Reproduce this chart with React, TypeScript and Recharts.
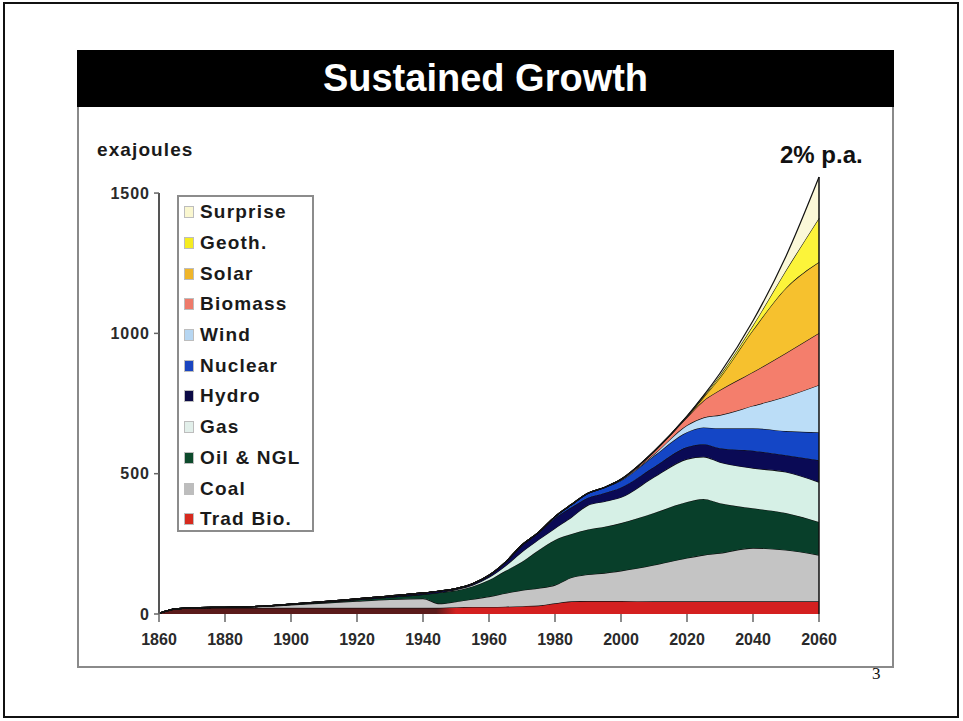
import React from 'react';
import { AreaChart, Area, XAxis, YAxis, Legend, ReferenceLine } from 'recharts';

const years = [1860, 1865, 1870, 1880, 1890, 1900, 1910, 1920, 1930, 1940, 1945, 1950, 1955, 1960, 1965, 1970, 1975, 1980, 1985, 1990, 1995, 2000, 2010, 2020, 2025, 2030, 2040, 2050, 2060];

const tradBio = [2, 18, 21, 22, 22, 22, 22, 22, 22, 22, 22, 24, 25, 25, 26, 28, 30, 38, 45, 46, 46, 46, 45, 45, 45, 45, 45, 45, 45];
const coal = [0, 0, 1, 2, 4, 10, 17, 24, 30, 33, 15, 20, 28, 37, 48, 57, 62, 65, 85, 95, 100, 108, 130, 155, 165, 172, 190, 183, 165];
const oil = [0, 0, 0, 0, 1, 2, 3, 5, 8, 15, 40, 40, 45, 59, 80, 101, 135, 161, 155, 160, 165, 170, 185, 199, 200, 178, 142, 132, 118];
const gas = [0, 0, 0, 0, 0, 0, 0, 0, 0, 0, 0, 3, 5, 10, 18, 36, 38, 42, 60, 87, 90, 92, 128, 153, 150, 146, 143, 146, 142];
const hydro = [0, 0, 0, 0, 0, 1, 2, 3, 4, 5, 5, 4, 5, 7, 13, 24, 25, 36, 35, 26, 30, 35, 36, 43, 45, 50, 62, 60, 78];
const nuclear = [0, 0, 0, 0, 0, 0, 0, 0, 0, 0, 0, 0, 0, 0, 0, 0, 1, 5, 10, 16, 20, 25, 40, 53, 60, 71, 80, 86, 100];
const wind = [0, 0, 0, 0, 0, 0, 0, 0, 0, 0, 0, 0, 0, 0, 0, 0, 0, 0, 0, 0, 0, 2, 5, 25, 35, 47, 80, 123, 168];
const biomass = [0, 0, 0, 0, 0, 0, 0, 0, 0, 0, 0, 0, 0, 0, 0, 0, 0, 0, 0, 0, 0, 2, 9, 28, 60, 89, 120, 155, 185];
const solar = [0, 0, 0, 0, 0, 0, 0, 0, 0, 0, 0, 0, 0, 0, 0, 0, 0, 0, 0, 0, 0, 0, 1, 2, 12, 45, 150, 232, 253];
const geoth = [0, 0, 0, 0, 0, 0, 0, 0, 0, 0, 0, 0, 0, 0, 0, 0, 0, 0, 0, 0, 0, 0, 0.5, 1, 4, 8, 17, 63, 157];
const surprise = [0, 0, 0, 0, 0, 0, 0, 0, 0, 0, 0, 0, 0, 0, 0, 0, 0, 0, 0, 0, 0, 0, 0.5, 1, 2, 7, 16, 50, 146];

const xTicks = [1860, 1880, 1900, 1920, 1940, 1960, 1980, 2000, 2020, 2040, 2060];
const yTicks = [0, 500, 1000, 1500];

// bottom-to-top stacking order
const seriesDefs = [
  { key: 'tradBio', name: 'Trad Bio.', values: tradBio, fill: 'url(#tradGrad)', swatch: '#D62A1E' },
  { key: 'coal', name: 'Coal', values: coal, fill: '#C4C4C4', swatch: '#BDBDBD' },
  { key: 'oil', name: 'Oil & NGL', values: oil, fill: '#083F2A', swatch: '#0D4A2C' },
  { key: 'gas', name: 'Gas', values: gas, fill: '#D6F0E6', swatch: '#E2EFEA' },
  { key: 'hydro', name: 'Hydro', values: hydro, fill: '#0A0A55', swatch: '#0B0A45' },
  { key: 'nuclear', name: 'Nuclear', values: nuclear, fill: '#1446C6', swatch: '#1A45C0' },
  { key: 'wind', name: 'Wind', values: wind, fill: '#BBDDF7', swatch: '#B6D6F2' },
  { key: 'biomass', name: 'Biomass', values: biomass, fill: '#F47E6C', swatch: '#EE7A6A' },
  { key: 'solar', name: 'Solar', values: solar, fill: '#F6C12E', swatch: '#EFB52A' },
  { key: 'geoth', name: 'Geoth.', values: geoth, fill: '#FCF43A', swatch: '#F5EC20' },
  { key: 'surprise', name: 'Surprise', values: surprise, fill: '#FBF8D8', swatch: '#FAF7D0' },
];

const data = years.map((year, i) => {
  const row: Record<string, number> = { year };
  seriesDefs.forEach((s) => {
    row[s.key] = s.values[i];
  });
  return row;
});

const lastIdx = years.length - 1;
const finalTotal = seriesDefs.reduce((acc, s) => acc + s.values[lastIdx], 0);

const FONT = '"Liberation Sans", Arial, Helvetica, sans-serif';

const LegendBox = () => (
  <div
    style={{
      width: 137,
      height: 337,
      border: '2px solid #8c8c8c',
      boxSizing: 'border-box',
      background: '#fff',
      paddingTop: 0,
      paddingLeft: 5,
    }}
  >
    {[...seriesDefs].reverse().map((s) => (
      <div key={s.key} style={{ display: 'flex', alignItems: 'center', height: 30.7 }}>
        <span
          style={{
            display: 'inline-block',
            width: 10,
            height: 12,
            background: s.swatch,
            border: '1px solid #bdbdbd',
            boxSizing: 'border-box',
            marginRight: 6,
          }}
        />
        <span style={{ fontFamily: FONT, fontWeight: 700, fontSize: 19, color: '#1a1a1a', letterSpacing: 1.2, whiteSpace: 'nowrap' }}>{s.name}</span>
      </div>
    ))}
  </div>
);

export default function App() {
  return (
    <div style={{ position: 'absolute', left: 0, top: 0, width: 963, height: 721, background: '#fff', overflow: 'hidden', fontFamily: FONT }}>
      <div style={{ position: 'absolute', left: 3, top: 2, width: 956, height: 716, border: '2px solid #111', boxSizing: 'border-box' }} />
      <div style={{ position: 'absolute', left: 872, top: 664, fontFamily: '"Liberation Serif", serif', fontSize: 17, color: '#111', lineHeight: '20px' }}>3</div>
      <div style={{ position: 'absolute', left: 77, top: 50, width: 817, height: 618, border: '2px solid #8a8a8a', boxSizing: 'border-box' }} />
      <div
        style={{
          position: 'absolute', left: 77, top: 50, width: 817, height: 57, background: '#000', color: '#fff',
          display: 'flex', alignItems: 'center', justifyContent: 'center', fontWeight: 700, fontSize: 38, fontFamily: FONT,
        }}
      >
        Sustained Growth
      </div>
      <div style={{ position: 'absolute', left: 97, top: 139, fontSize: 19, fontWeight: 700, color: '#1a1a1a', letterSpacing: 1.1 }}>exajoules</div>
      <div style={{ position: 'absolute', left: 780, top: 141, fontSize: 24, fontWeight: 700, color: '#111' }}>2% p.a.</div>
      <div style={{ position: 'absolute', left: 0, top: 0 }}>
        <AreaChart width={963} height={721} data={data} margin={{ top: 165, right: 144, bottom: 77, left: 99 }}>
          <defs>
            <linearGradient id="tradGrad" x1="0" y1="0" x2="1" y2="0">
              <stop offset="0" stopColor="#5A1A1A" />
              <stop offset="0.42" stopColor="#5A1A1A" />
              <stop offset="0.45" stopColor="#D42020" />
              <stop offset="1" stopColor="#D42020" />
            </linearGradient>
          </defs>
          <XAxis
            dataKey="year"
            type="number"
            domain={[1860, 2060]}
            ticks={xTicks}
            axisLine={false}
            tickLine={{ stroke: '#666', strokeWidth: 1.5 }}
            tickSize={8}
            tickMargin={12}
            height={30}
            tick={{ fontSize: 16, fontWeight: 700, fill: '#2a2a2a', fontFamily: FONT }}
            interval={0}
          />
          <YAxis
            type="number"
            domain={[0, 1600]}
            ticks={yTicks}
            axisLine={false}
            tickLine={{ stroke: '#666', strokeWidth: 1.5 }}
            tickSize={5}
            tickMargin={4}
            width={60}
            tick={{ fontSize: 16, fontWeight: 700, fill: '#2a2a2a', fontFamily: FONT, letterSpacing: 1 }}
            interval={0}
          />
          {seriesDefs.map((s) => (
            <Area
              key={s.key}
              type="monotone"
              dataKey={s.key}
              name={s.name}
              stackId="1"
              fill={s.fill}
              fillOpacity={1}
              stroke="#111"
              strokeWidth={1.2}
              dot={false}
              activeDot={false}
              isAnimationActive={false}
            />
          ))}
          <ReferenceLine segment={[{ x: 1860, y: 0 }, { x: 1860, y: 1500 }]} stroke="#555" strokeWidth={2} />
          <ReferenceLine segment={[{ x: 2060, y: 0 }, { x: 2060, y: finalTotal }]} stroke="#111" strokeWidth={1.5} />
          <Legend
            layout="vertical"
            align="center"
            verticalAlign="middle"
            content={() => <LegendBox />}
            wrapperStyle={{ position: 'absolute', left: 177, top: 195, width: 137, height: 337, margin: 0 }}
          />
        </AreaChart>
      </div>
    </div>
  );
}
